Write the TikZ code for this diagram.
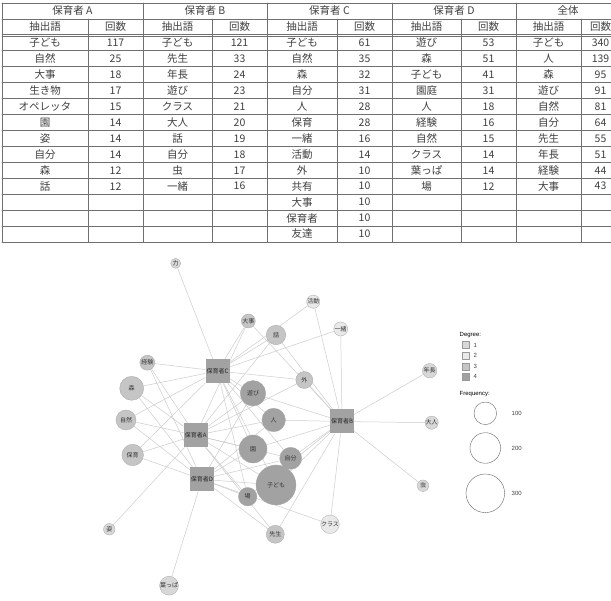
\documentclass[tikz,border=0pt]{standalone}
\usepackage{fontspec}
\newfontfamily\jp{Noto Sans CJK JP}
\newfontfamily\lat{Liberation Sans}
\usetikzlibrary{backgrounds}
\definecolor{rule}{HTML}{707070}
\definecolor{edgec}{HTML}{CDCDCD}
\definecolor{degA}{HTML}{D8D8D8}
\definecolor{degB}{HTML}{E9E9E9}
\definecolor{degC}{HTML}{C5C5C5}
\definecolor{degD}{HTML}{A2A2A2}
\tikzset{
  cell/.style={font=\jp\fontsize{10.5}{10.5}\selectfont,text=black!75,inner sep=0pt},
  word/.style={circle,draw=black!35,line width=0.3pt,inner sep=0pt,
    font=\jp\fontsize{6}{6}\selectfont,text=black!80},
  spk/.style={rectangle,fill=degD,minimum size=24pt,inner sep=0pt,
    font=\jp\fontsize{6}{6}\selectfont,text=black!85},
  edge/.style={draw=edgec,line width=0.5pt},
  legt/.style={font=\lat\fontsize{6}{6}\selectfont,inner sep=0pt,anchor=west},
  lbox/.style={rectangle,draw=black!40,line width=0.3pt,minimum size=7pt,inner sep=0pt}
}
\begin{document}
\begin{tikzpicture}[x=1pt,y=-1pt,line join=round,line cap=round]
\useasboundingbox (0,0) rectangle (611,601);

% table
\begin{scope}
\clip (0,0) rectangle (611,601);
\foreach \k in {0,1,3,4,...,15}
  \draw[rule,line width=0.6pt] (2,{3+15.93*\k}) -- (620,{3+15.93*\k});
\draw[rule,line width=0.5pt] (2,{3+15.93*2-1}) -- (620,{3+15.93*2-1});
\draw[rule,line width=0.5pt] (2,{3+15.93*2+1}) -- (620,{3+15.93*2+1});
\foreach \x in {2,143,267,392,516,620}
  \draw[rule,line width=0.6pt] (\x,3) -- (\x,{3+15.93*15});
\foreach \x in {88,212,337,461,581}
  \draw[rule,line width=0.6pt] (\x,{3+15.93}) -- (\x,{3+15.93*15});

\node[cell] (hdA) at (72.5,{3+15.93*0.5}) {保育者 A};
\node[cell] (hdB) at (205,{3+15.93*0.5}) {保育者 B};
\node[cell] (hdC) at (329.5,{3+15.93*0.5}) {保育者 C};
\node[cell] (hdD) at (454,{3+15.93*0.5}) {保育者 D};
\node[cell] (hdT) at (568,{3+15.93*0.5}) {全体};
\foreach \wx/\nx [count=\j] in {45/115.5,177.5/239.5,302/364.5,426.5/488.5,548.5/600.5}{
  \node[cell] (kw\j) at (\wx,{3+15.93*1.5}) {抽出語};
  \node[cell] (kn\j) at (\nx,{3+15.93*1.5}) {回数};
}
\foreach \w/\n [count=\i] in {子ども/117,自然/25,大事/18,生き物/17,オペレッタ/15,園/14,姿/14,自分/14,森/12,話/12}{
  \node[cell] (aw\i) at (45,{3+15.93*(\i+1.5)}) {\w};
  \node[cell] (an\i) at (115.5,{3+15.93*(\i+1.5)}) {\n};
}
\foreach \w/\n [count=\i] in {子ども/121,先生/33,年長/24,遊び/23,クラス/21,大人/20,話/19,自分/18,虫/17,一緒/16}{
  \node[cell] (bw\i) at (177.5,{3+15.93*(\i+1.5)}) {\w};
  \node[cell] (bn\i) at (239.5,{3+15.93*(\i+1.5)}) {\n};
}
\foreach \w/\n [count=\i] in {子ども/61,自然/35,森/32,自分/31,人/28,保育/28,一緒/16,活動/14,外/10,共有/10,大事/10,保育者/10,友達/10}{
  \node[cell] (cw\i) at (302,{3+15.93*(\i+1.5)}) {\w};
  \node[cell] (cn\i) at (364.5,{3+15.93*(\i+1.5)}) {\n};
}
\foreach \w/\n [count=\i] in {遊び/53,森/51,子ども/41,園庭/31,人/18,経験/16,自然/15,クラス/14,葉っぱ/14,場/12}{
  \node[cell] (dw\i) at (426.5,{3+15.93*(\i+1.5)}) {\w};
  \node[cell] (dn\i) at (488.5,{3+15.93*(\i+1.5)}) {\n};
}
\foreach \w/\n [count=\i] in {子ども/340,人/139,森/95,遊び/91,自然/81,自分/64,先生/55,年長/51,経験/44,大事/43}{
  \node[cell] (tw\i) at (548.5,{3+15.93*(\i+1.5)}) {\w};
  \node[cell] (tn\i) at (600.5,{3+15.93*(\i+1.5)}) {\n};
}
\end{scope}

% network
\node[spk] (hC) at (217.5,371) {保育者C};
\node[spk] (hA) at (195.7,435.3) {保育者A};
\node[spk] (hB) at (342,421.5) {保育者B};
\node[spk] (hD) at (202,479.3) {保育者D};

\node[word,fill=degA,minimum size=10pt] (chikara) at (175.7,263.3) {力};
\node[word,fill=degB,minimum size=13pt] (katsudo) at (313.3,301.7) {活動};
\node[word,fill=degC,minimum size=14pt] (daiji) at (248.3,321) {大事};
\node[word,fill=degC,minimum size=19.5pt] (hanashi) at (276,335) {話};
\node[word,fill=degB,minimum size=14pt] (issho) at (340.7,329) {一緒};
\node[word,fill=degC,minimum size=15pt] (keiken) at (147.3,362.7) {経験};
\node[word,fill=degC,minimum size=24pt] (mori) at (131.7,388.3) {森};
\node[word,fill=degC,minimum size=17pt] (soto) at (304.3,380) {外};
\node[word,fill=degD,minimum size=25.5pt] (asobi) at (253,393.3) {遊び};
\node[word,fill=degC,minimum size=20pt] (shizen) at (126,420) {自然};
\node[word,fill=degD,minimum size=23.5pt] (hito) at (273.7,420) {人};
\node[word,fill=degA,minimum size=14.5pt] (nencho) at (429.7,370.7) {年長};
\node[word,fill=degA,minimum size=12.5pt] (otona) at (431.7,422.7) {大人};
\node[word,fill=degC,minimum size=21.5pt] (hoiku) at (132.7,455) {保育};
\node[word,fill=degD,minimum size=28pt] (en) at (253,449) {園};
\node[word,fill=degD,minimum size=22pt] (jibun) at (290.7,458.3) {自分};
\node[word,fill=degD,minimum size=40pt] (kodomo) at (276,485) {子ども};
\node[word,fill=degD,minimum size=18.5pt] (ba) at (247.7,496.7) {場};
\node[word,fill=degA,minimum size=11.5pt] (sugata) at (109.3,529.3) {姿};
\node[word,fill=degC,minimum size=18pt] (sensei) at (275.3,534.3) {先生};
\node[word,fill=degB,minimum size=15pt] (kurasu) at (330,524.3) {クラス};
\node[word,fill=degA,minimum size=11.5pt] (mushi) at (423,485.7) {虫};
\node[word,fill=degA,minimum size=10pt] (happa) at (169,585.7) {葉っぱ};

\begin{scope}[on background layer]
\fill[white] (0,0) rectangle (611,601);
\foreach \t in {chikara,katsudo,daiji,hanashi,issho,keiken,mori,soto,asobi,shizen,hito,hoiku,en,jibun,kodomo,ba}
  \draw[edge] (hC) -- (\t);
\foreach \t in {shizen,mori,hoiku,sugata,daiji,hanashi,asobi,hito,en,jibun,kodomo,ba,keiken,sensei,soto}
  \draw[edge] (hA) -- (\t);
\foreach \t in {katsudo,issho,nencho,otona,mushi,kurasu,sensei,soto,hanashi,daiji,asobi,hito,en,jibun,kodomo,ba}
  \draw[edge] (hB) -- (\t);
\foreach \t in {happa,keiken,mori,shizen,hoiku,kurasu,sensei,asobi,hito,en,jibun,kodomo,ba}
  \draw[edge] (hD) -- (\t);
\end{scope}

% legend
\node[legt] (degt) at (459.5,335) {Degree:};
\foreach \c/\v [count=\i] in {degA/1,degB/2,degC/3,degD/4}{
  \node[lbox,fill=\c] (lb\i) at (466,{334.5+10.6*\i}) {};
  \node[legt,text=black!75] (lt\i) at (473.5,{334.5+10.6*\i}) {\v};
}
\node[legt] (freqt) at (459.5,394) {Frequency:};
\node[circle,draw=black!60,line width=0.4pt,minimum size=22.6pt] (f1) at (485.3,413.3) {};
\node[circle,draw=black!60,line width=0.4pt,minimum size=30.6pt] (f2) at (485.3,448) {};
\node[circle,draw=black!60,line width=0.4pt,minimum size=38.6pt] (f3) at (485.3,493.3) {};
\node[legt,text=black!75] (fv1) at (511.5,413.3) {100};
\node[legt,text=black!75] (fv2) at (511.5,448) {200};
\node[legt,text=black!75] (fv3) at (511.5,493.3) {300};
\end{tikzpicture}
\end{document}
